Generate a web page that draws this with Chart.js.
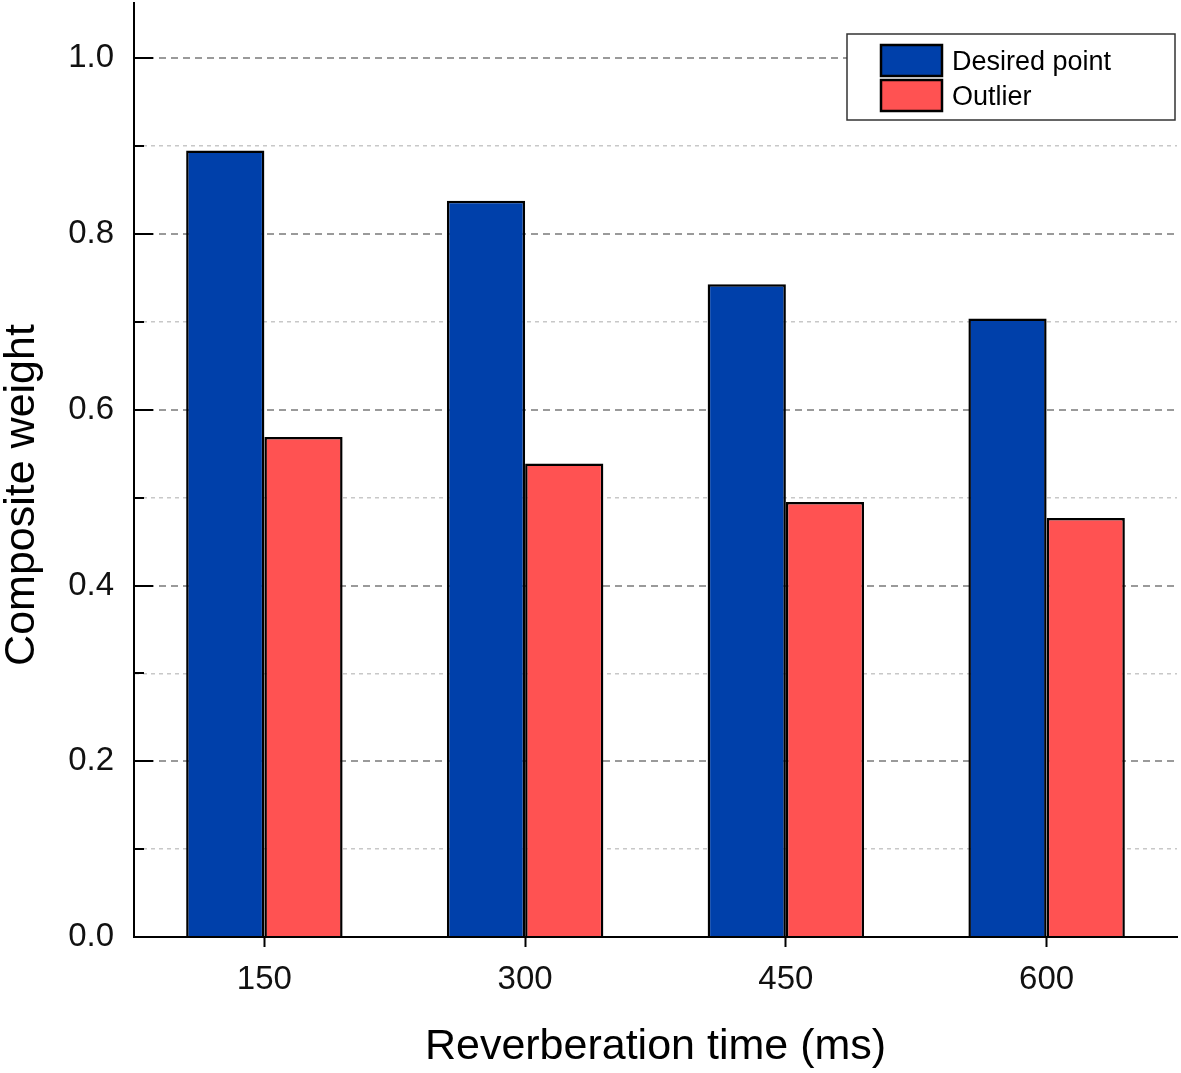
<!DOCTYPE html>
<html lang="en">
<head>
  <meta charset="UTF-8" />
  <title>Composite weight vs reverberation time</title>
  <script src="https://cdn.jsdelivr.net/npm/chart.js"></script>
  <style>
    body {
      margin: 0;
      background: #fff;
    }
    #chartContainer {
      width: 1181px;
      height: 1073px;
    }
  </style>
</head>
<body>
  <div id="chartContainer">
    <canvas id="myChart"></canvas>
  </div>

<script>
  // Data
  const categories = ['150', '300', '450', '600'];
  const desiredPoint = [0.895, 0.838, 0.743, 0.704];
  const outlier = [0.569, 0.539, 0.495, 0.477];
  const yMin = 0;
  const yMax = 1.063;
  const yStep = 0.1;

  const FONT = "'Liberation Sans', Arial, sans-serif";
  const BLUE = '#0040AA';
  const RED = '#FF5252';

  // labels only on every other step (0.0, 0.2, ...)
  const isMajor = v => Math.round(v * 10) % 2 === 0;

  // inward y ticks, rotated y title and boxed legend
  const extras = {
    id: 'extras',
    afterDatasetsDraw(chart) {
      const { ctx, chartArea, scales: { y } } = chart;
      ctx.save();

      ctx.strokeStyle = '#000';
      ctx.lineWidth = 2;
      y.ticks.forEach(t => {
        const py = Math.round(y.getPixelForValue(t.value));
        const len = isMajor(t.value) ? 19 : 10;
        ctx.beginPath();
        ctx.moveTo(chartArea.left, py);
        ctx.lineTo(chartArea.left + len, py);
        ctx.stroke();
      });

      // y axis title
      ctx.save();
      ctx.translate(34, 495);
      ctx.rotate(-Math.PI / 2);
      ctx.fillStyle = '#000';
      ctx.font = `43px ${FONT}`;
      ctx.textAlign = 'center';
      ctx.textBaseline = 'alphabetic';
      ctx.fillText('Composite weight', 0, 0);
      ctx.restore();

      // legend box
      const bw = 328, bh = 86;
      const bx = chartArea.right - bw - 2;
      const by = chartArea.top + 31;
      ctx.fillStyle = '#fff';
      ctx.fillRect(bx, by, bw, bh);
      ctx.strokeStyle = '#333';
      ctx.lineWidth = 1.5;
      ctx.strokeRect(bx, by, bw, bh);

      chart.data.datasets.forEach((ds, i) => {
        const sy = by + 11 + i * 35;
        ctx.fillStyle = ds.backgroundColor;
        ctx.fillRect(bx + 34, sy, 61, 31);
        ctx.strokeStyle = '#000';
        ctx.lineWidth = 2.5;
        ctx.strokeRect(bx + 34, sy, 61, 31);
        ctx.fillStyle = '#000';
        ctx.font = `27px ${FONT}`;
        ctx.textAlign = 'left';
        ctx.textBaseline = 'middle';
        ctx.fillText(ds.label, bx + 105, sy + 18);
      });

      ctx.restore();
    }
  };

  const ctx = document.getElementById('myChart').getContext('2d');
  const chart = new Chart(ctx, {
    type: 'bar',
    data: {
      labels: categories,
      datasets: [
        {
          label: 'Desired point',
          data: desiredPoint,
          backgroundColor: BLUE,
          borderColor: '#000',
          borderWidth: 2.5
        },
        {
          label: 'Outlier',
          data: outlier,
          backgroundColor: RED,
          borderColor: '#000',
          borderWidth: 2.5
        }
      ]
    },
    options: {
      responsive: true,
      maintainAspectRatio: false,
      animation: false,
      layout: {
        padding: { top: 3, right: 4, left: 0, bottom: 0 }
      },
      datasets: {
        bar: {
          categoryPercentage: 0.6,
          barPercentage: 1.0
        }
      },
      plugins: {
        legend: { display: false },
        tooltip: { enabled: false }
      },
      scales: {
        x: {
          grid: {
            offset: false,
            drawOnChartArea: false,
            drawTicks: true,
            tickLength: 10,
            tickWidth: 2,
            tickColor: '#000'
          },
          border: { color: '#000', width: 2 },
          ticks: {
            color: '#111',
            padding: 13,
            font: { family: FONT, size: 33 }
          },
          title: {
            display: true,
            text: 'Reverberation time (ms)',
            color: '#000',
            padding: { top: 0, bottom: 0 },
            font: { family: FONT, size: 43 }
          },
          afterFit(s) {
            s.height = 136;
            s.paddingLeft = 0;
            s.paddingRight = 0;
          }
        },
        y: {
          min: yMin,
          max: yMax,
          grid: {
            drawTicks: false,
            color: c => (c.tick && isMajor(c.tick.value)) ? '#9a9a9a' : '#c8c8c8',
            lineWidth: c => (c.tick && isMajor(c.tick.value)) ? 2 : 1.5
          },
          border: {
            color: '#000',
            width: 2,
            dash: c => c.tick ? (isMajor(c.tick.value) ? [7, 5] : [4, 4]) : []
          },
          ticks: {
            stepSize: yStep,
            includeBounds: false,
            autoSkip: false,
            color: '#111',
            padding: 20,
            font: { family: FONT, size: 33 },
            callback: v => isMajor(v) ? v.toFixed(1) : ''
          },
          afterFit(s) {
            s.width = 134;
            s.paddingTop = 0;
            s.paddingBottom = 0;
          }
        }
      }
    },
    plugins: [extras]
  });
</script>
</body>
</html>
